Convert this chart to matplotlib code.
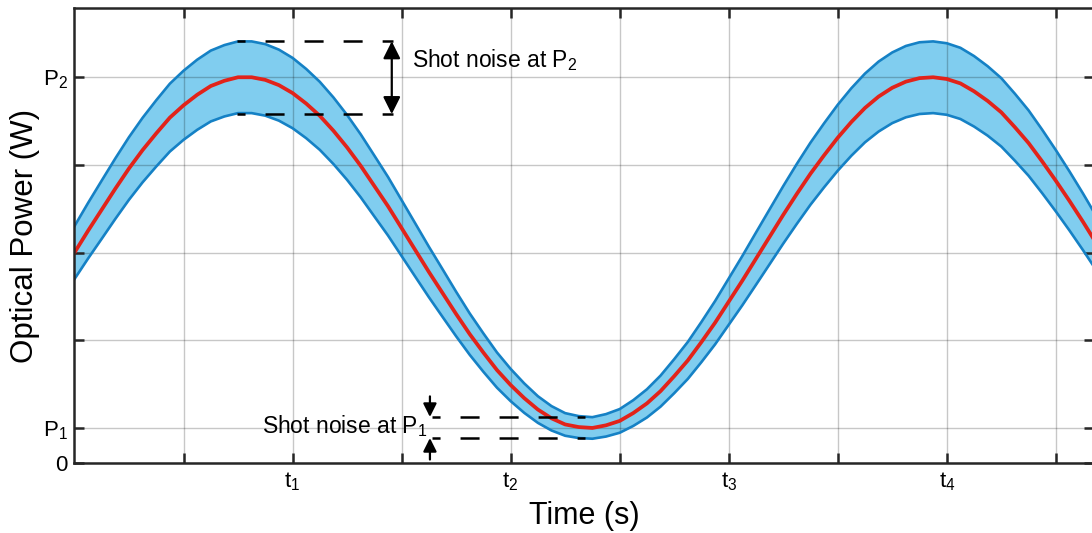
import matplotlib as mpl
mpl.use('Agg')
import matplotlib.pyplot as plt

plt.rcParams['font.family'] = ['Liberation Sans', 'DejaVu Sans']
plt.rcParams['mathtext.fontset'] = 'custom'
plt.rcParams['mathtext.rm'] = 'Liberation Sans'
plt.rcParams['mathtext.it'] = 'Liberation Sans:italic'
plt.rcParams['lines.scale_dashes'] = False

# values (time in tick units, power in grid units)
time = [0.0, 0.125, 0.25, 0.375, 0.5, 0.625, 0.75, 0.875,
        1.0, 1.125, 1.25, 1.375, 1.5, 1.625, 1.75, 1.875,
        2.0, 2.125, 2.25, 2.375, 2.5, 2.625, 2.75, 2.875,
        3.0, 3.125, 3.25, 3.375, 3.5, 3.625, 3.75, 3.875,
        4.0, 4.125, 4.25, 4.375, 4.5, 4.625, 4.75, 4.875,
        5.0, 5.125, 5.25, 5.375, 5.5, 5.625, 5.75, 5.875,
        6.0, 6.125, 6.25, 6.375, 6.5, 6.625, 6.75, 6.875,
        7.0, 7.125, 7.25, 7.375, 7.5, 7.625, 7.75, 7.875,
        8.0, 8.125, 8.25, 8.375, 8.5, 8.625, 8.75, 8.875,
        9.0, 9.125, 9.25, 9.35]
power = [2.40, 2.65, 2.89, 3.13, 3.36, 3.57, 3.76, 3.94,
         4.08, 4.20, 4.30, 4.36, 4.40, 4.40, 4.37, 4.31,
         4.22, 4.10, 3.96, 3.79, 3.60, 3.39, 3.16, 2.93,
         2.68, 2.43, 2.18, 1.94, 1.70, 1.47, 1.26, 1.06,
         0.89, 0.74, 0.61, 0.51, 0.44, 0.41, 0.40, 0.43,
         0.48, 0.57, 0.68, 0.82, 0.99, 1.17, 1.38, 1.60,
         1.84, 2.08, 2.33, 2.58, 2.83, 3.07, 3.30, 3.51,
         3.71, 3.89, 4.05, 4.18, 4.28, 4.35, 4.39, 4.40,
         4.38, 4.33, 4.24, 4.13, 4.00, 3.83, 3.65, 3.44,
         3.22, 2.99, 2.75, 2.55]
shot_noise = [0.302, 0.317, 0.332, 0.345, 0.357, 0.368, 0.378, 0.387,
              0.394, 0.400, 0.404, 0.407, 0.409, 0.409, 0.408, 0.405,
              0.401, 0.395, 0.388, 0.380, 0.370, 0.359, 0.347, 0.334,
              0.319, 0.304, 0.288, 0.272, 0.254, 0.236, 0.219, 0.201,
              0.184, 0.168, 0.152, 0.139, 0.129, 0.125, 0.123, 0.128,
              0.135, 0.147, 0.161, 0.177, 0.194, 0.211, 0.229, 0.247,
              0.264, 0.281, 0.298, 0.313, 0.328, 0.342, 0.354, 0.365,
              0.376, 0.385, 0.392, 0.399, 0.403, 0.407, 0.409, 0.409,
              0.408, 0.406, 0.402, 0.396, 0.390, 0.382, 0.373, 0.362,
              0.350, 0.337, 0.323, 0.311]

xticks = [1, 2, 3, 4, 5, 6, 7, 8, 9]
xticklabels = ['', 't$_1$', '', 't$_2$', '', 't$_3$', '', 't$_4$', '']
yticks = [0, 0.4, 1.4, 2.4, 3.4, 4.4]
yticklabels = ['0', 'P$_1$', '', '', '', 'P$_2$']

P2_hi, P2_lo = 4.81, 3.98
P1_hi, P1_lo = 0.525, 0.285

upper = [p + n for p, n in zip(power, shot_noise)]
lower = [p - n for p, n in zip(power, shot_noise)]

fig = plt.figure(figsize=(10.92, 5.33), dpi=100)
ax = fig.add_axes([0.0682, 0.1313, 0.9336, 0.8537])

blue = '#1581C5'
ax.fill_between(time, lower, upper, color='#80CDEF', lw=0, zorder=1)
ax.plot(time, upper, color=blue, lw=1.9, zorder=3, solid_joinstyle='round')
ax.plot(time, lower, color=blue, lw=1.9, zorder=3, solid_joinstyle='round')
ax.plot(time, power, color='#E2231A', lw=2.7, zorder=3, solid_joinstyle='round')

dash = (7.9, (13.7, 14.4))
ax.plot([1.49, 2.92], [P2_hi, P2_hi], color='k', lw=1.8, ls=dash, zorder=4)
ax.plot([1.49, 2.92], [P2_lo, P2_lo], color='k', lw=1.8, ls=dash, zorder=4)
ax.annotate('', xy=(2.91, P2_lo), xytext=(2.91, P2_hi),
            arrowprops=dict(arrowstyle='<|-|>', color='k', lw=1.6,
                            mutation_scale=26, shrinkA=0, shrinkB=0), zorder=5)
ax.text(3.10, 4.52, 'Shot noise at P$_2$', fontsize=16.5, va='baseline', ha='left')

ax.plot([3.28, 4.68], [P1_hi, P1_hi], color='k', lw=1.8, ls=dash, zorder=4)
ax.plot([3.28, 4.68], [P1_lo, P1_lo], color='k', lw=1.8, ls=dash, zorder=4)
ax.annotate('', xy=(3.26, P1_hi), xytext=(3.26, 0.76),
            arrowprops=dict(arrowstyle='-|>', color='k', lw=1.6,
                            mutation_scale=20, shrinkA=0, shrinkB=0), zorder=5)
ax.annotate('', xy=(3.26, P1_lo), xytext=(3.26, 0.04),
            arrowprops=dict(arrowstyle='-|>', color='k', lw=1.6,
                            mutation_scale=20, shrinkA=0, shrinkB=0), zorder=5)
ax.text(1.72, 0.34, 'Shot noise at P$_1$', fontsize=16.5, va='baseline', ha='left')

ax.set_xlim(0, 9.35)
ax.set_ylim(0, 5.19)
ax.set_xticks(xticks)
ax.set_xticklabels(xticklabels, fontsize=16)
ax.set_yticks(yticks)
ax.set_yticklabels(yticklabels, fontsize=16)
ax.tick_params(direction='in', length=7, width=1.8, top=True, right=True,
               color='#262626', pad=5)
ax.set_axisbelow(False)
ax.grid(True, color='#000000', alpha=0.22, lw=1.0)
for s in ax.spines.values():
    s.set_linewidth(1.8)
    s.set_color('#262626')
    s.set_zorder(6)

ax.set_xlabel('Time (s)', fontsize=22, labelpad=6)
ax.set_ylabel('Optical Power (W)', fontsize=22.5, labelpad=2)

fig.savefig('out.png', dpi=100)
